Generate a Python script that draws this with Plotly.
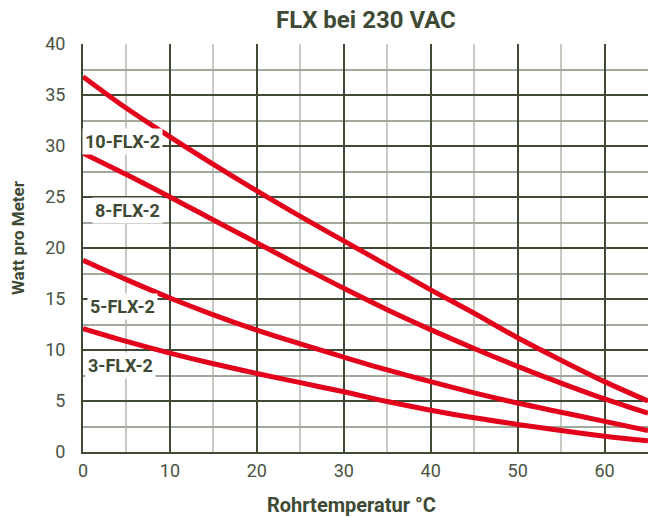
import plotly.graph_objects as go

temps = [0, 5, 10, 15, 20, 25, 30, 35, 40, 45, 50, 55, 60, 65]
flx10 = [36.8, 33.7, 30.9, 28.2, 25.6, 23.1, 20.7, 18.3, 15.9, 13.6, 11.2, 9.0, 6.9, 5.0]
flx8 = [29.3, 27.2, 25.0, 22.75, 20.5, 18.25, 16.05, 13.95, 12.0, 10.15, 8.4, 6.75, 5.2, 3.8]
flx5 = [18.8, 16.9, 15.1, 13.45, 11.95, 10.6, 9.3, 8.05, 6.9, 5.8, 4.8, 3.9, 3.0, 2.1]
flx3 = [12.1, 10.85, 9.7, 8.65, 7.7, 6.8, 5.9, 4.95, 4.1, 3.35, 2.7, 2.1, 1.55, 1.1]

series_names = ["10-FLX-2", "8-FLX-2", "5-FLX-2", "3-FLX-2"]
label_x = [4.6, 5.15, 4.6, 4.35]
label_y = [30.4, 23.65, 14.3, 8.5]

x_ticks = [0, 10, 20, 30, 40, 50, 60]
y_ticks = [0, 5, 10, 15, 20, 25, 30, 35, 40]

RED = "#e2001a"
DARK = "#3e4a34"
TICK = "#4a5243"
FONT = "Roboto, sans-serif"

fig = go.Figure()
for ys, name in zip([flx10, flx8, flx5, flx3], series_names):
    fig.add_trace(go.Scatter(x=temps, y=ys, mode="lines", name=name,
                             line=dict(color=RED, width=5, shape="spline", smoothing=1.0),
                             showlegend=False, hoverinfo="skip"))

for name, lx, ly in zip(series_names, label_x, label_y):
    fig.add_annotation(x=lx, y=ly, text="<b>" + name + "</b>", showarrow=False,
                       xanchor="center", yanchor="middle",
                       font=dict(family=FONT, size=18, color=DARK),
                       bgcolor="white", borderpad=2)

fig.add_annotation(xref="paper", yref="paper", x=0.5, y=1.0, yshift=24, xanchor="center", yanchor="middle",
                   text="<b>FLX bei 230 VAC</b>", showarrow=False,
                   font=dict(family=FONT, size=24, color=DARK))
fig.add_annotation(xref="paper", yref="paper", x=0.5, xshift=-14, y=0, yshift=-53,
                   xanchor="center", yanchor="middle",
                   text="<b>Rohrtemperatur °C</b>", showarrow=False,
                   font=dict(family=FONT, size=20, color=DARK))
fig.add_annotation(xref="paper", yref="paper", x=0, xshift=-65, y=0.5, yshift=10,
                   xanchor="center", yanchor="middle",
                   text="<b>Watt pro Meter</b>", textangle=-90, showarrow=False,
                   font=dict(family=FONT, size=17, color=DARK))

fig.update_layout(
    width=649, height=517,
    margin=dict(l=83, r=1, t=44, b=65),
    paper_bgcolor="white", plot_bgcolor="white",
    xaxis=dict(range=[0, 65], tickvals=x_ticks, showgrid=True, gridcolor=DARK, gridwidth=1.5,
               minor=dict(dtick=5, tick0=0, showgrid=True, gridcolor="#c9cac2", gridwidth=2),
               zeroline=False, showline=True, linecolor=DARK, linewidth=2,
               tickfont=dict(family=FONT, size=18, color=TICK),
               ticks="outside", ticklen=1, tickcolor="rgba(0,0,0,0)"),
    yaxis=dict(range=[0, 40], tickvals=y_ticks, showgrid=True, gridcolor=DARK, gridwidth=1.5,
               minor=dict(dtick=2.5, tick0=0, showgrid=True, gridcolor="#a3a89c", gridwidth=1.5),
               zeroline=False, showline=True, linecolor=DARK, linewidth=2,
               tickfont=dict(family=FONT, size=18, color=TICK),
               ticks="outside", ticklen=12, tickcolor="rgba(0,0,0,0)"),
)

fig.write_html("out.html", config={"displayModeBar": False},
               post_script="document.body.style.margin='0';")
